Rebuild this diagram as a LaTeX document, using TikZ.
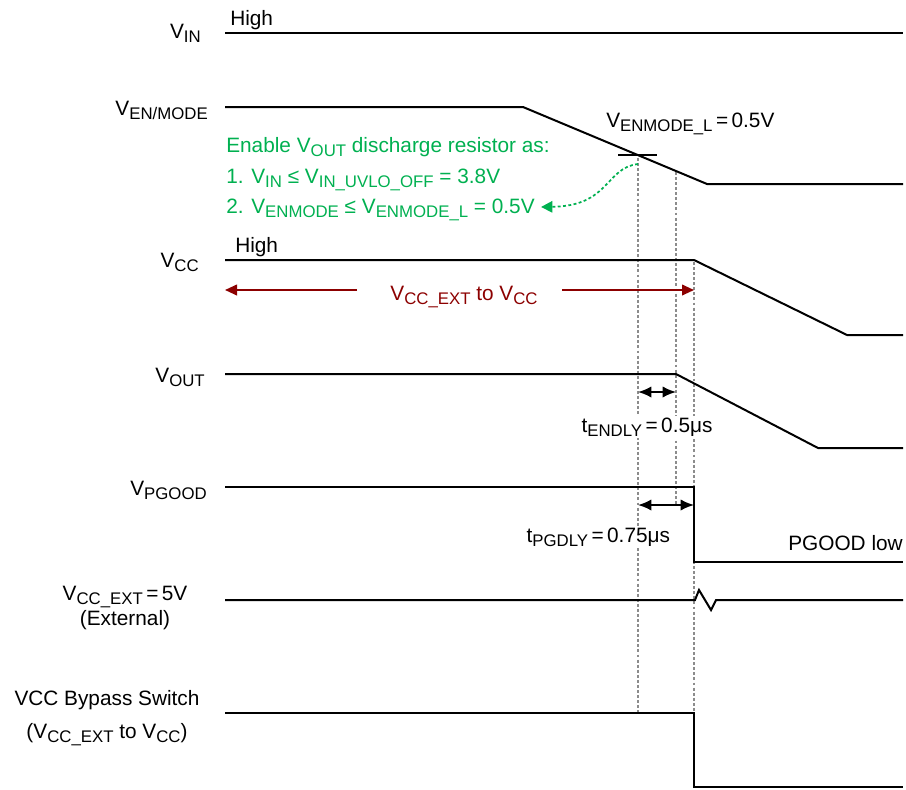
\documentclass[tikz,border=0pt]{standalone}
\usepackage{fontspec}
\setmainfont{Liberation Sans}
\usetikzlibrary{arrows.meta}
\definecolor{grn}{RGB}{0,176,80}
\definecolor{dred}{RGB}{140,0,0}
\definecolor{dotgray}{RGB}{140,140,140}
\newcommand\sbs[1]{\raisebox{-3.3pt}{\fontsize{12.6}{13}\selectfont #1}}
\begin{document}
\begin{tikzpicture}[x=0.75pt,y=-0.75pt,
  wave/.style={line width=1.5pt,line join=miter},
  guide/.style={dotgray,line width=1.1pt,dash pattern=on 2.2pt off 1.6pt},
  lbl/.style={inner sep=0pt,font=\fontsize{15.6}{18}\selectfont},
  redarr/.style={dred,line width=1.4pt,-{Triangle[length=9pt,width=8pt]}},
  dim/.style={line width=1.4pt,{Latex[length=10pt,width=8.5pt]}-{Latex[length=10pt,width=8.5pt]}}]
\useasboundingbox (0,0) rectangle (906,789);
% guide lines
\coordinate (gA1) at (638,158); \coordinate (gA2) at (638,713);
\coordinate (gB1) at (676,172); \coordinate (gB2) at (676,504);
\coordinate (gC1) at (694,262); \coordinate (gC2) at (694,713);
\draw[guide] (gA1) -- (gA2);
\draw[guide] (gB1) -- (gB2);
\draw[guide] (gC1) -- (gC2);
% labels left
\node[lbl,anchor=base east] (lin) at (201,38) {V\sbs{IN}};
\node[lbl,anchor=base east] (len) at (208,115) {V\sbs{EN/MODE}};
\node[lbl,anchor=base east] (lcc) at (199,267) {V\sbs{CC}};
\node[lbl,anchor=base east] (lout) at (205,382) {V\sbs{OUT}};
\node[lbl,anchor=base east] (lpg) at (207,495) {V\sbs{PGOOD}};
\node[lbl,anchor=base] (lext) at (125,600) {V\sbs{CC\_EXT}\,=\,5V};
\node[lbl,anchor=base] (lext2) at (125,625) {(External)};
\node[lbl,anchor=base] (lby) at (107,705) {VCC Bypass Switch};
\node[lbl,anchor=base] (lby2) at (107,738) {(V\sbs{CC\_EXT} to V\sbs{CC})};
% High labels
\node[lbl,anchor=base west] (h1) at (230,25) {High};
\node[lbl,anchor=base west] (h2) at (235,252) {High};
% waveforms
\draw[wave] (225,33) -- (903,33);
\draw[wave] (225,107) -- (523,107) -- (707,184) -- (903,184);
\draw[wave] (225,260) -- (694,260) -- (847,335) -- (903,335);
\draw[wave] (225,374) -- (676,374) -- (818,448) -- (903,448);
\draw[wave] (225,487) -- (694,487) -- (694,562) -- (903,562);
\draw[wave] (225,600) -- (695,600) -- (699,590) -- (711,610) -- (716,600) -- (903,600);
\draw[wave] (225,713) -- (694,713) -- (694,787) -- (903,787);
% threshold tick
\draw[wave] (618,155) -- (657,155);
\node[lbl,anchor=base west] (vth) at (606,127) {V\sbs{ENMODE\_L}\,=\,0.5V};
% green text
\node[lbl,anchor=base west,text=grn] (g1) at (226,152) {Enable V\sbs{OUT} discharge resistor as:};
\node[lbl,anchor=base west,text=grn] (g2) at (226,183) {1. V\sbs{IN} ≤ V\sbs{IN\_UVLO\_OFF} = 3.8V};
\node[lbl,anchor=base west,text=grn] (g3) at (226,213) {2. V\sbs{ENMODE} ≤ V\sbs{ENMODE\_L} = 0.5V};
\coordinate (gs) at (638,164);
\coordinate (ge) at (541,207);
\draw[grn,line width=1.3pt,dash pattern=on 2.2pt off 1.8pt,-{Triangle[length=8.5pt,width=8.5pt]}] (gs) .. controls (605,168) and (610,206) .. (ge);
% red arrows
\node[lbl,anchor=base,text=dred] (rt) at (464,300) {V\sbs{CC\_EXT} to V\sbs{CC}};
\coordinate (ra1) at (357,290); \coordinate (ra2) at (225,290);
\coordinate (rb1) at (562,290); \coordinate (rb2) at (694,290);
\draw[redarr] (ra1) -- (ra2);
\draw[redarr] (rb1) -- (rb2);
% delay arrows
\coordinate (d1a) at (638,392); \coordinate (d1b) at (676,392);
\draw[dim] (d1a) -- (d1b);
\node[lbl,anchor=base west,fill=white,inner sep=1pt] (tend) at (580,432) {t\sbs{ENDLY}\,=\,0.5μs};
\coordinate (d2a) at (638,505); \coordinate (d2b) at (694,505);
\draw[dim] (d2a) -- (d2b);
\node[lbl,anchor=base west,fill=white,inner sep=1pt] (tpg) at (525,542) {t\sbs{PGDLY}\,=\,0.75μs};
\node[lbl,anchor=base east] (pgl) at (903,550) {PGOOD low};
\end{tikzpicture}
\end{document}
